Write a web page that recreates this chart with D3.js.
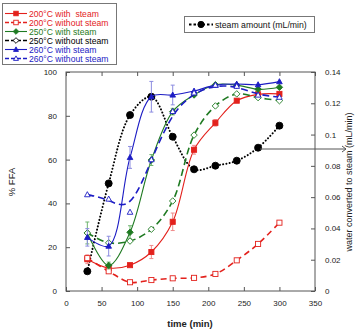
<!DOCTYPE html>
<html><head><meta charset="utf-8">
<script src="https://cdn.jsdelivr.net/npm/d3@7"></script>
<style>body{margin:0;background:#fff}svg{display:block;font-family:"Liberation Sans",Arial,sans-serif}</style>
</head><body><svg id="c" width="360" height="335"></svg>
<script>
const times = [30, 60, 90, 120, 150, 180, 210, 240, 270, 300];
const red200Steam   = [14.5, 10.5, 11.8, 17.8, 31.6, 64.5, 76.8, 86.9, 89.8, 90];
const red200NoSteam = [15, 9, 4, 5, 5.8, 6, 7.8, 14, 21.5, 31.2];
const green250Steam   = [26.5, 11.7, 26.8, 59.8, 81.9, 89.5, 94.2, 94, 92.1, 93];
const green250NoSteam = [26.5, 22, 22.8, 28.2, 41.1, 71.2, 84.5, 90, 88.3, 86.9];
const blue260Steam   = [24.5, 20.5, 61, 88.7, 89.5, 91.3, 94, 94.5, 94.2, 95.6];
const blue260NoSteam = [44, 42, 36, 60, 82, 90.5, 94, 93.5, 89.5, 88.5];
const steamAmount = [0.0126, 0.0688, 0.1125, 0.1242, 0.0986, 0.0778, 0.0801, 0.0833, 0.0916, 0.1057];
const errRedSteam   = [2, 1.5, 1, 3, 4, 2, 1.5, 1, 1, 1];
const errGreenSteam = [5, 1.5, 3, 2.5, 1.5, 1, 1, 1, 1, 1];
const errBlueSteam  = [4, 4.5, 5, 7, 4.5, 1, 1, 1, 1, 1];
const xTicks = [0, 50, 100, 150, 200, 250, 300, 350];
const yTicks = [0, 20, 40, 60, 80, 100];
const y2Ticks = [0, 0.02, 0.04, 0.06, 0.08, 0.1, 0.12, 0.14];

const RED = "#e3211c", GREEN = "#1f7a22", BLUE = "#1c1cc4", BLACK = "#000";
const series = [
  {label: "200°C with  steam", vals: red200Steam, err: errRedSteam, color: RED, errColor: "#f08a8a", dash: null, marker: "square", fill: true, curve: d3.curveCatmullRom},
  {label: "200°C without steam", vals: red200NoSteam, err: null, color: RED, dash: "6,4", marker: "square", fill: false, curve: d3.curveCatmullRom},
  {label: "250°C with steam", vals: green250Steam, err: errGreenSteam, color: GREEN, errColor: "#6fb56f", dash: null, marker: "diamond", fill: true, curve: d3.curveCatmullRom, textColor: GREEN},
  {label: "250°C without steam", vals: green250NoSteam, err: null, color: GREEN, dash: "7,4", marker: "diamond", fill: false, curve: d3.curveCatmullRom, textColor: BLACK, legColor: BLACK},
  {label: "260°C with steam", vals: blue260Steam, err: errBlueSteam, color: BLUE, errColor: "#8c8ce0", dash: null, marker: "triangle", fill: true, curve: d3.curveCatmullRom},
  {label: "260°C without steam", vals: blue260NoSteam, err: null, color: BLUE, dash: "7,4", marker: "triangle", fill: false, curve: d3.curveBasis}
];

const svg = d3.select("#c");
const L = 66, R = 315, T = 72, B = 291;
const x = d3.scaleLinear().domain([0, 350]).range([L, R]);
const y = d3.scaleLinear().domain([0, 100]).range([B, T]);
const y2 = d3.scaleLinear().domain([0, 0.14]).range([B, T]);

// frame
svg.append("rect").attr("x", L).attr("y", T).attr("width", R - L).attr("height", B - T)
  .attr("fill", "none").attr("stroke", "#555").attr("stroke-width", 1);

const axStyle = g => { g.select(".domain").remove(); g.selectAll("line").attr("stroke", "#555"); g.selectAll("text").attr("font-size", 8).attr("fill", "#222").attr("font-family", "Liberation Sans, Arial, sans-serif"); };
svg.append("g").attr("transform", `translate(0,${B})`)
  .call(d3.axisBottom(x).tickValues(xTicks).tickSize(-4).tickPadding(9).tickFormat(d3.format("d"))).call(axStyle);
svg.append("g").attr("transform", `translate(0,${T})`)
  .call(d3.axisTop(x).tickValues(xTicks).tickSize(-4).tickFormat("")).call(axStyle);
svg.append("g").attr("transform", `translate(${L},0)`)
  .call(d3.axisLeft(y).tickValues(yTicks).tickSize(-4).tickPadding(9)).call(axStyle);
svg.append("g").attr("transform", `translate(${R},0)`)
  .call(d3.axisRight(y2).tickValues(y2Ticks).tickSize(-4).tickPadding(10).tickFormat(d => d === 0 ? "0" : String(+d.toFixed(2)))).call(axStyle);

// axis titles
svg.append("text").attr("x", 190).attr("y", 327).attr("text-anchor", "middle")
  .attr("font-size", 9.5).attr("font-weight", "bold").attr("fill", "#222").text("time (min)");
svg.append("text").attr("transform", "translate(15,182) rotate(-90)").attr("text-anchor", "middle")
  .attr("font-size", 9.5).attr("fill", "#222").text("% FFA");
svg.append("text").attr("transform", "translate(352,182) rotate(-90)").attr("text-anchor", "middle")
  .attr("font-size", 9).attr("fill", "#222").text("water converted to steam (mL/min)");

function marker(g, type, cx, cy, color, fill, s) {
  s = s || 1;
  let el;
  if (type === "square") el = g.append("rect").attr("x", cx - 3 * s).attr("y", cy - 3 * s).attr("width", 6 * s).attr("height", 6 * s);
  else if (type === "diamond") el = g.append("path").attr("d", `M${cx},${cy - 3.8 * s}L${cx + 3.8 * s},${cy}L${cx},${cy + 3.8 * s}L${cx - 3.8 * s},${cy}Z`);
  else if (type === "triangle") el = g.append("path").attr("d", `M${cx},${cy - 3.5 * s}L${cx + 3.3 * s},${cy + 2.5 * s}L${cx - 3.3 * s},${cy + 2.5 * s}Z`);
  else el = g.append("circle").attr("cx", cx).attr("cy", cy).attr("r", 3.5 * s);
  el.attr("fill", fill ? color : "#fff").attr("stroke", color).attr("stroke-width", 0.9);
}

// steam amount (right axis)
const steamLine = d3.line().x((d, i) => x(times[i])).y(d => y2(d)).curve(d3.curveCatmullRom);
svg.append("path").attr("d", steamLine(steamAmount)).attr("fill", "none").attr("stroke", BLACK)
  .attr("stroke-width", 2).attr("stroke-dasharray", "0.1,3.2").attr("stroke-linecap", "round");
steamAmount.forEach((v, i) => marker(svg, "circle", x(times[i]), y2(v), BLACK, true));

// FFA series
series.forEach(s => {
  const line = d3.line().x((d, i) => x(times[i])).y(d => y(d)).curve(s.curve);
  const p = svg.append("path").attr("d", line(s.vals)).attr("fill", "none").attr("stroke", s.color).attr("stroke-width", s.dash ? 1.6 : 1.1);
  if (s.dash) p.attr("stroke-dasharray", s.dash);
  if (s.err) s.vals.forEach((v, i) => {
    const e = s.err[i]; if (e < 1.5) return;
    const g = svg.append("g").attr("stroke", s.errColor).attr("stroke-width", 1);
    g.append("line").attr("x1", x(times[i])).attr("x2", x(times[i])).attr("y1", y(v - e)).attr("y2", y(v + e));
    g.append("line").attr("x1", x(times[i]) - 2).attr("x2", x(times[i]) + 2).attr("y1", y(v - e)).attr("y2", y(v - e));
    g.append("line").attr("x1", x(times[i]) - 2).attr("x2", x(times[i]) + 2).attr("y1", y(v + e)).attr("y2", y(v + e));
  });
  s.vals.forEach((v, i) => marker(svg, s.marker, x(times[i]), y(v), s.color, s.fill, 0.85));
});

// annotation arrow
svg.append("line").attr("x1", 260).attr("y1", 149).attr("x2", 346).attr("y2", 149).attr("stroke", "#555").attr("stroke-width", 1);
svg.append("path").attr("d", "M342,146L346,149L342,152").attr("fill", "none").attr("stroke", "#555").attr("stroke-width", 1);

// legend 1
const lg = svg.append("g");
lg.append("rect").attr("x", 2.5).attr("y", 3.5).attr("width", 114).attr("height", 61).attr("fill", "#fff").attr("stroke", "#777");
series.forEach((s, i) => {
  const yy = 13.5 + i * 9;
  const c = s.legColor || s.color;
  const l = lg.append("line").attr("x1", 5).attr("x2", 27).attr("y1", yy).attr("y2", yy).attr("stroke", c).attr("stroke-width", s.dash ? 1.6 : 1.1);
  if (s.dash) l.attr("stroke-dasharray", "4,2");
  marker(lg, s.marker, 16, yy, c, s.fill, 0.75);
  lg.append("text").attr("x", 29).attr("y", yy + 3).attr("font-size", 8.6).attr("fill", s.textColor || s.color)
    .attr("xml:space", "preserve").style("white-space", "pre").text(s.label);
});

// legend 2
const lg2 = svg.append("g");
lg2.append("rect").attr("x", 184.5).attr("y", 16.5).attr("width", 130).attr("height", 16).attr("fill", "#fff").attr("stroke", "#777");
lg2.append("line").attr("x1", 189).attr("x2", 213).attr("y1", 24.5).attr("y2", 24.5).attr("stroke", BLACK)
  .attr("stroke-width", 2).attr("stroke-dasharray", "2.5,2");
marker(lg2, "circle", 201, 24.5, BLACK, true, 0.9);
lg2.append("text").attr("x", 215).attr("y", 27.5).attr("font-size", 8.7).attr("fill", "#111").text("steam amount (mL/min)");
</script></body></html>
